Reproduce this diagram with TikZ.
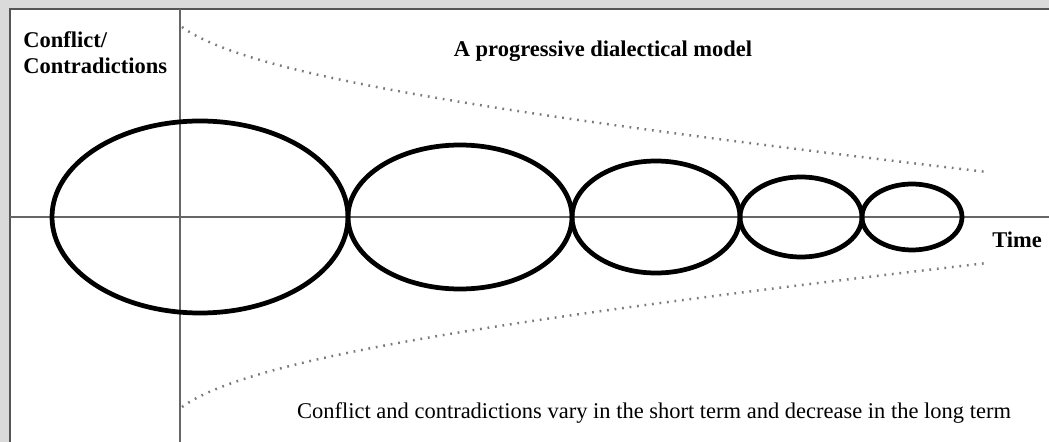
\documentclass[tikz,border=0pt]{standalone}
\usepackage{fontspec}
\setmainfont{Liberation Serif}
\definecolor{scanback}{HTML}{DADADA}
\definecolor{framegray}{HTML}{555555}
\definecolor{axisgray}{HTML}{666666}
\definecolor{dotgray}{HTML}{7A7A7A}
\tikzset{
  orbit/.style={draw=black, line width=2.7pt},
  axisline/.style={draw=axisgray, line width=0.8pt},
  envelope/.style={draw=dotgray, line width=1.4pt, dash pattern=on 1pt off 3.3pt},
  lbl/.style={font=\fontsize{12.8}{15}\selectfont, inner sep=0pt}
}
\begin{document}
\begin{tikzpicture}[x=0.02cm, y=-0.02cm]
\useasboundingbox (0,0) rectangle (1049,442);

% Scan background and frame
\fill[scanback] (0,0) rectangle (1049,442);
\fill[white] (10,9) rectangle (1049,442);
\draw[framegray, line width=1.1pt] (10,442) -- (10,9) -- (1049,9);

% Axes
\def\axisX{180}
\def\axisY{217}
\draw[axisline] (\axisX,9) -- (\axisX,442);
\draw[axisline] (10,\axisY) -- (1049,\axisY);

% Envelope (dotted)
\draw[envelope] (182,27) .. controls (250,77) and (520,117) .. (987,172);
\draw[envelope] (182,407) .. controls (250,357) and (520,317) .. (987,263);

% Shrinking cycles
\draw[orbit] (200,\axisY) ellipse [x radius=148, y radius=96];
\draw[orbit] (460,\axisY) ellipse [x radius=112, y radius=72];
\draw[orbit] (656,\axisY) ellipse [x radius=84, y radius=56];
\draw[orbit] (801,\axisY) ellipse [x radius=61, y radius=40];
\draw[orbit] (912,\axisY) ellipse [x radius=50, y radius=33];

% Labels
\node[lbl, font=\fontsize{12.8}{15}\selectfont\bfseries, align=left, anchor=north west] (conflict) at (23,31) {Conflict/\\Contradictions};
\node[lbl, font=\fontsize{12.8}{15}\selectfont\bfseries] (title) at (603,51) {A progressive dialectical model};
\node[lbl, font=\fontsize{12.8}{15}\selectfont\bfseries, anchor=west] (time) at (992,240) {Time};
\node[lbl] (caption) at (654,413) {Conflict and contradictions vary in the short term and decrease in the long term};

\end{tikzpicture}
\end{document}
